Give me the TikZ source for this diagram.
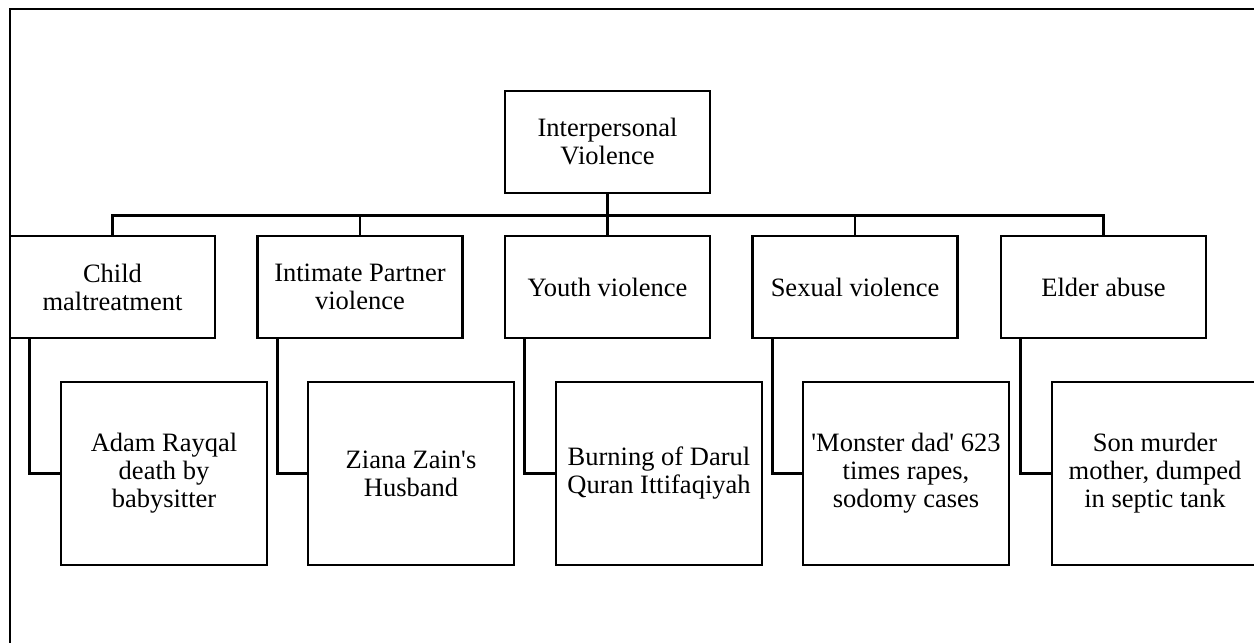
\documentclass[tikz,border=0pt]{standalone}
\usepackage{fontspec}
\setmainfont{Liberation Serif}
\tikzset{
  caixa/.style={draw, line width=2.6pt, minimum width=205pt, minimum height=102pt, align=center, inner sep=2pt, font=\fontsize{26.5}{28}\selectfont},
  caso/.style={caixa, minimum width=206pt, minimum height=183pt},
  liga/.style={line width=2.6pt}
}
\begin{document}
\begin{tikzpicture}[x=1pt, y=-1pt] %Desenho em pixels, y para baixo
	\useasboundingbox (0,0) rectangle (1254,643);
	\clip (0,0) rectangle (1254,643);
		%Moldura
	\draw[line width=2.8pt] (10,660) -- (10,9) -- (1270,9);
		%Raiz
	\node[caixa] (raiz) at (607.5,142) {Interpersonal\\Violence};
		%Tipos
	\node[caixa] (t1) at (112.5,287) {Child\\maltreatment};
	\node[caixa] (t2) at (360,287) {Intimate Partner\\violence};
	\node[caixa] (t3) at (607.5,287) {Youth violence};
	\node[caixa] (t4) at (855,287) {Sexual violence};
	\node[caixa] (t5) at (1103.5,287) {Elder abuse};
		%Casos
	\node[caso] (c1) at (164,473.5) {Adam Rayqal\\death by\\babysitter};
	\node[caso] (c2) at (411,473.5) {Ziana Zain\textquotesingle s\\Husband};
	\node[caso] (c3) at (659,473.5) {Burning of Darul\\Quran Ittifaqiyah};
	\node[caso] (c4) at (906,473.5) {\textquotesingle Monster dad\textquotesingle{} 623\\times rapes,\\sodomy cases};
	\node[caso] (c5) at (1155,473.5) {Son murder\\mother, dumped\\in septic tank};
		%Ligacoes
	\draw[liga] (raiz.south) -- ++(0,21) -| (t1.north);
	\draw[liga] (raiz.south) -- ++(0,21) -| (t2.north);
	\draw[liga] (raiz.south) -- (t3.north);
	\draw[liga] (raiz.south) -- ++(0,21) -| (t4.north);
	\draw[liga] (raiz.south) -- ++(0,21) -| (t5.north);
	\draw[liga] ([xshift=21pt]t1.south west) |- (c1.west);
	\draw[liga] ([xshift=21pt]t2.south west) |- (c2.west);
	\draw[liga] ([xshift=21pt]t3.south west) |- (c3.west);
	\draw[liga] ([xshift=21pt]t4.south west) |- (c4.west);
	\draw[liga] ([xshift=21pt]t5.south west) |- (c5.west);
\end{tikzpicture}
\end{document}
